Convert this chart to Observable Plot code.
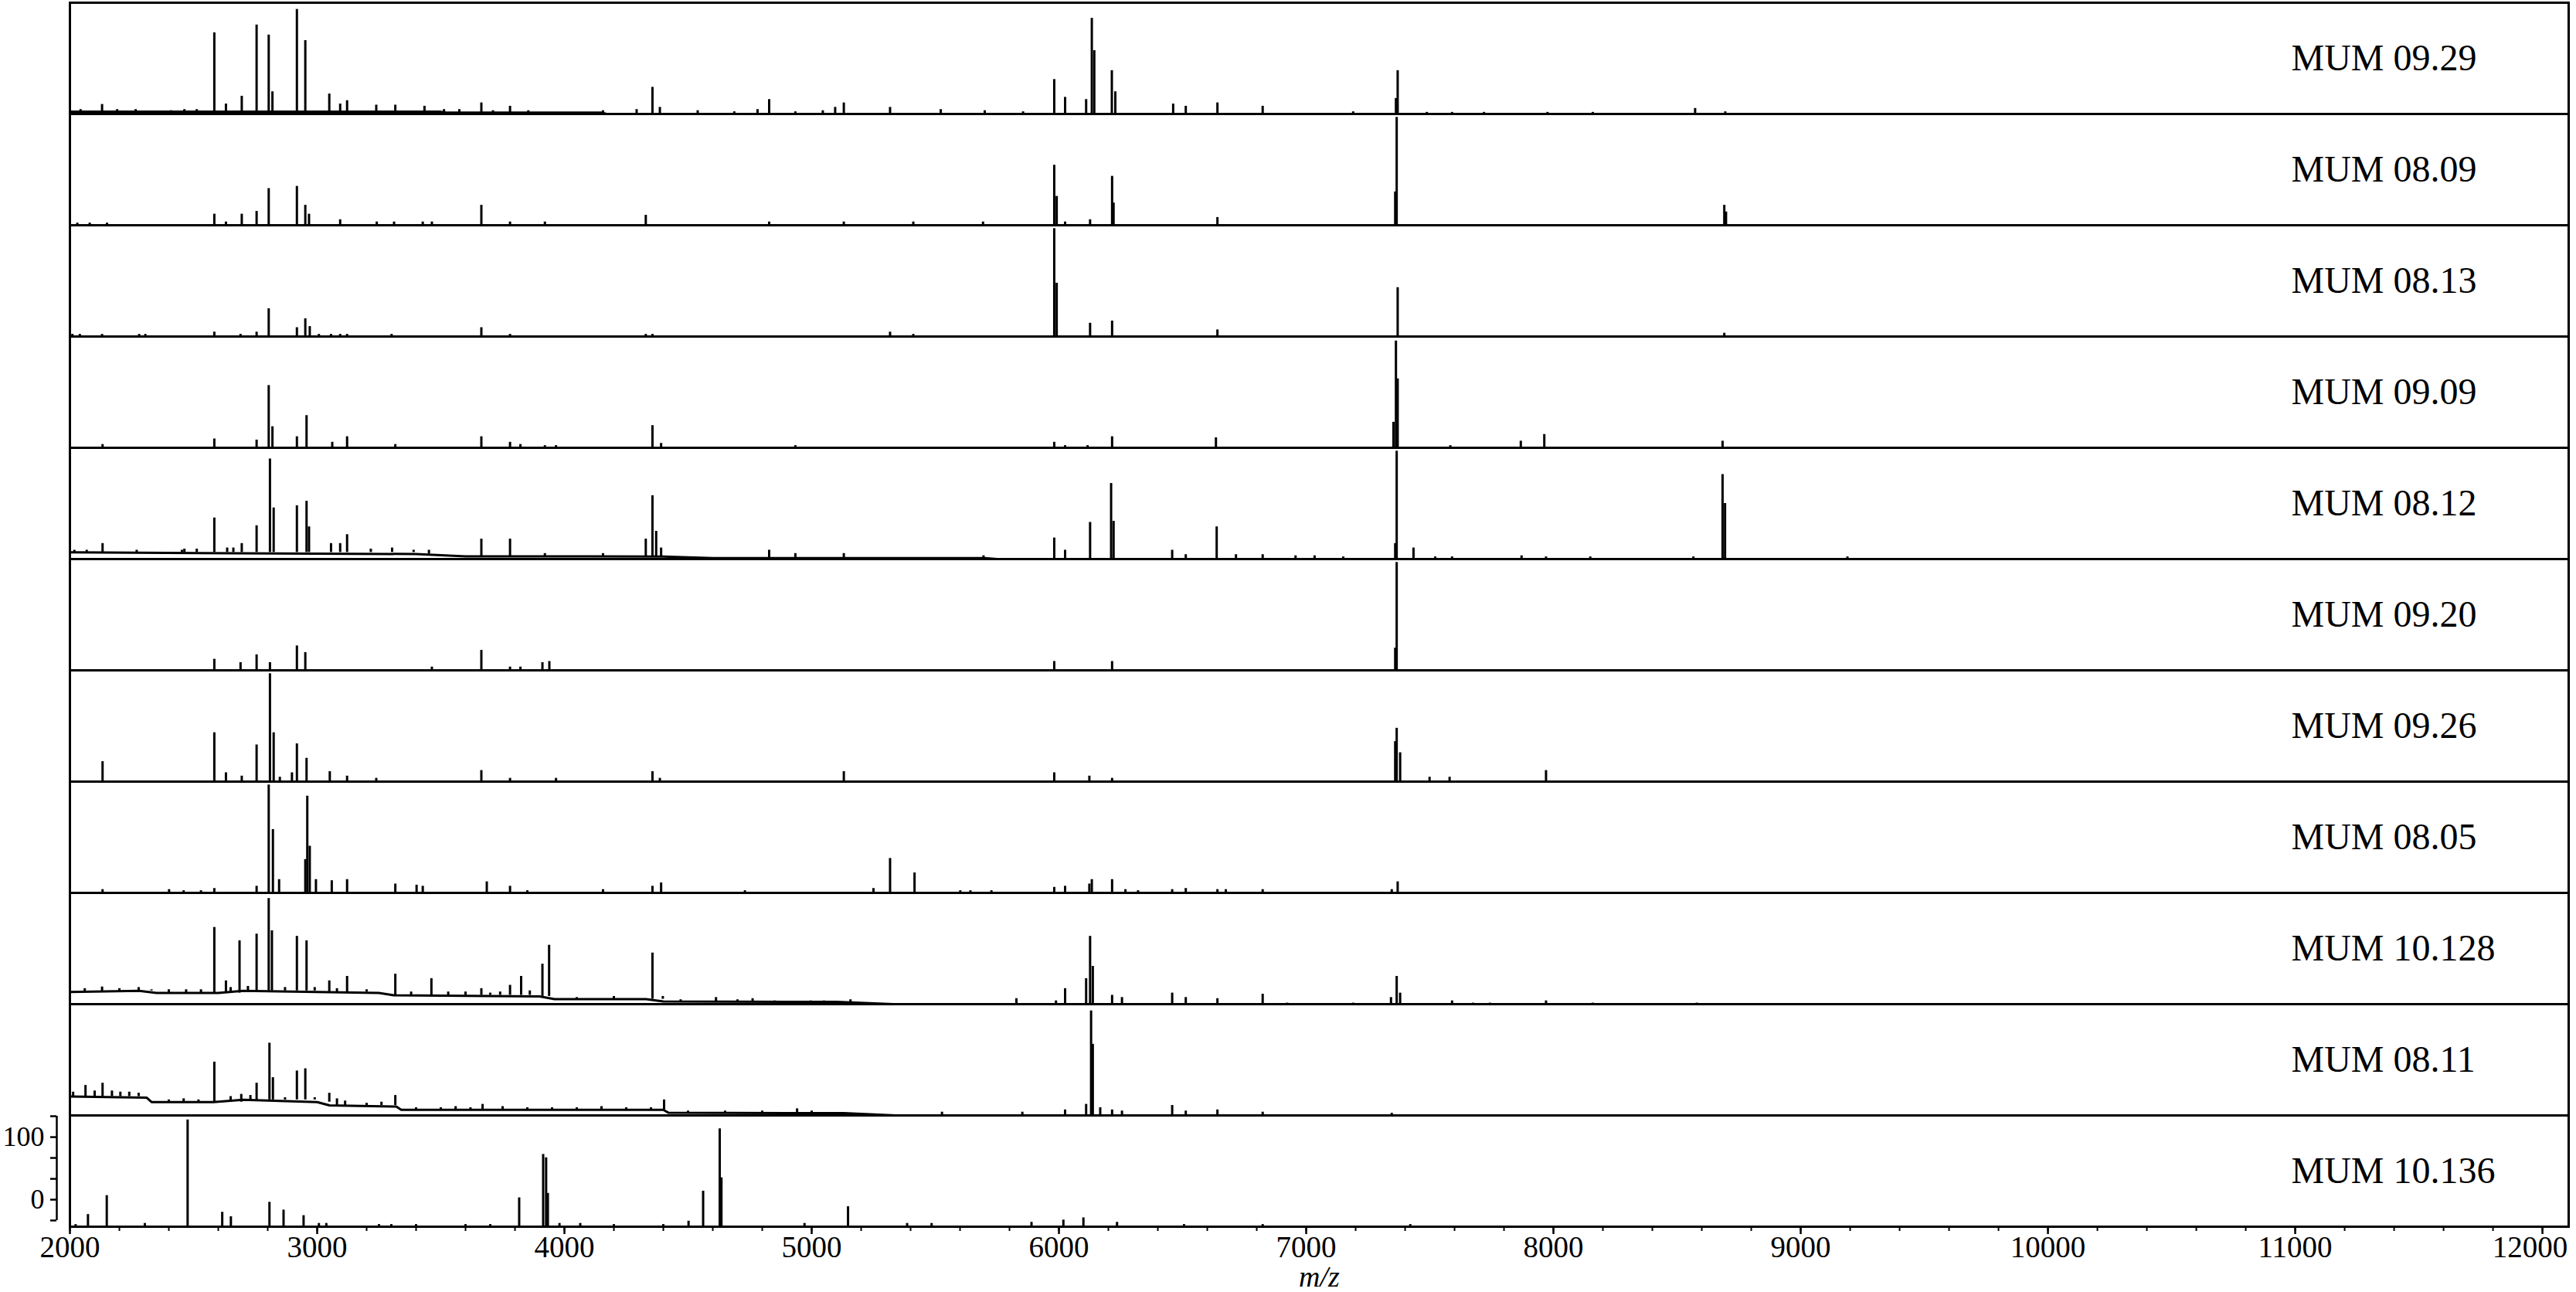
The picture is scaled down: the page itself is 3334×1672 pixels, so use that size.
<!DOCTYPE html>
<html>
<head>
<meta charset="utf-8">
<script src="https://cdn.jsdelivr.net/npm/d3@7"></script>
<script src="https://cdn.jsdelivr.net/npm/@observablehq/plot@0.6"></script>
<style>
html, body { margin: 0; padding: 0; background: #fff; }
#chart svg { display: block; }
</style>
</head>
<body>
<div id="chart"></div>
<script>
// ---- sample names (top to bottom) ----
const samples = ["MUM 09.29", "MUM 08.09", "MUM 08.13", "MUM 09.09", "MUM 08.12", "MUM 09.20",
                 "MUM 09.26", "MUM 08.05", "MUM 10.128", "MUM 08.11", "MUM 10.136"];

// ---- peaks: [m/z, top of peak in % of panel height] ----
const peaks_0929 = [[2043,4],[2130,8.6],[2191,4],[2266,4],[2409,3],[2463,4],[2513,4],[2584,73],[2631,9],[2695,16],[2755,80],[2804,71],[2819,20],
  [2918,94],[2952,66],[3049,18],[3093,9],[3121,12],[3239,8],[3316,8],[3434,7],[3513,4],[3575,4],[3664,10],[3711,3],[3780,7],
  [3854,3],[4156,3],[4292,4],[4356,24],[4386,6],[4539,3],[4687,2],[4781,4],[4828,13],[4934,2],[5045,3],[5095,6],[5130,10],[5317,6],[5522,4],
  [5700,3],[5855,2],[5981,31],[6025,15],[6110,13],[6133,86],[6143,57],[6214,39],[6228,20],[6462,9],[6513,7],[6641,10],
  [6824,7],[7190,2],[7363,14],[7370,39],[7488,1.5],[7590,1.5],[7719,1.5],[7976,1.5],[8159,1.5],[8573,5],[8695,2]];
const peaks_0809 = [[2030,2],[2080,2],[2150,2],[2584,10],[2631,3],[2695,10],[2755,12.5],[2804,33],[2918,35],[2952,18],[2967,10],
  [3093,5],[3241,3],[3311,3],[3427,3],[3464,3],[3664,18],[3780,3],[3921,3],[4329,9],[4828,3],[5130,3],[5411,3],[5693,3],
  [5981,54],[5991,26],[6025,3],[6126,5],[6215,44],[6221,20],[6641,7],[7360,30],[7366,97],[8691,18],[8698,12]];
const peaks_0813 = [[2010,2],[2040,2],[2130,2],[2280,2],[2305,2],[2584,4],[2690,2],[2755,4],[2804,25],[2918,8],[2952,16],[2970,9],
  [3007,2],[3056,2],[3093,2],[3121,2],[3301,2],[3664,8],[3780,2],[4329,2],[4356,2],[5317,4],[5411,2],
  [5981,97],[5991,48],[6126,12],[6215,14],[6641,6],[7370,44],[8691,3]];
const peaks_0909 = [[2132,3],[2584,8],[2755,7],[2804,56],[2819,19],[2918,10],[2957,29],[3061,5],[3121,10],[3316,3],[3664,10],
  [3780,5],[3822,3],[3921,2],[3966,2],[4356,20],[4391,4],[4934,2],
  [5981,5],[6025,2],[6116,2],[6215,10],[6635,9],[7353,23],[7363,96],[7370,62],[7583,2],[7868,6],[7963,12],[8684,6]];
const peaks_0812 = [[2018,8],[2068,8],[2132,14],[2270,8],[2453,8],[2463,9],[2513,9],[2584,37],[2636,10],[2661,10],[2695,14],[2755,30],
  [2809,90],[2824,46],[2918,48],[2957,52],[2967,29],[3056,14],[3093,14],[3121,22],[3217,9],[3303,10],[3390,8],[3452,8],[3664,18],
  [3780,18],[3921,5],[4156,5],[4329,18],[4356,57],[4371,25],[4391,10],[4828,8],[4934,5],[5130,5],[5695,3],
  [5981,19],[6025,8],[6126,33],[6211,68],[6221,34],[6458,8],[6513,4],[6638,29],[6716,4],[6824,4],[6957,3],[7034,3],
  [7150,2],[7360,14],[7366,97],[7434,10],[7522,2],[7590,2],[7871,3],[7970,2],[8149,2],[8566,2],[8684,76],[8694,50],[9189,2]];
const peaks_0920 = [[2584,10],[2690,7],[2755,14],[2809,7],[2918,22],[2952,16],[3464,3],[3664,18],[3780,3],[3822,3],[3911,7],[3939,8],
  [5981,8],[6215,8],[7360,20],[7366,97]];
const peaks_0926 = [[2132,18],[2584,44],[2631,8],[2695,5],[2755,33],[2809,97],[2824,44],[2849,4],[2898,8],[2918,34],[2957,21],
  [3051,9],[3121,5],[3239,3],[3664,10],[3780,3],[3966,3],[4356,9],[4386,3],[5130,9],
  [5981,8],[6123,5],[6215,3],[7360,36],[7366,48],[7380,26],[7499,4],[7580,4],[7970,10]];
const peaks_0805 = [[2132,3],[2401,3],[2460,2],[2530,2],[2584,4],[2755,6],[2804,97],[2821,57],[2846,12],[2952,30],[2960,87],[2970,42],
  [2995,12],[3059,11],[3121,12],[3316,8],[3402,7],[3427,6],[3686,10],[3780,6],[3850,2],[4156,3],[4356,6],[4391,9],[4730,2],
  [5250,4],[5317,31],[5416,18],[5601,2],
  [5642,2],[5727,2],[5981,5],[6025,6],[6123,8],[6133,12],[6215,12],[6269,3],[6320,2],[6458,3],[6513,4],[6641,3],[6675,3],
  [6824,3],[7346,3],[7370,10]];
const peaks_10128 = [[2060,14],[2130,15.5],[2200,14],[2278,15],[2330,13],[2400,13],[2470,13],[2530,13],[2584,69],[2631,21],[2650,15],
  [2686,57],[2720,16],[2755,63],[2804,95],[2817,66],[2870,15],[2918,61],[2957,57],[2990,15],[3049,21],[3080,14],[3121,25],
  [3200,13],[3316,27],[3380,11],[3462,23],[3530,11],[3600,11],[3664,14],[3700,10],[3740,11],[3780,17],[3825,25],[3860,12],
  [3911,36],[3938,53],[4050,6],[4200,7],[4356,46],[4398,7],[4470,4],[4613,6],[4700,4],[4761,5],[4850,3],[4996,3],[5050,3],[5157,4],
  [5828,5],[5988,3],[6025,14],[6110,23],[6126,61],[6137,34],[6215,8],[6255,6],[6458,10],[6513,6],[6641,5],[6824,9],
  [6923,1],[7190,1],[7343,6],[7366,25],[7380,10],[7590,3],[7675,1],[7743,1],[7970,3],[8159,1],[8580,1]];
const peaks_0811 = [[2013,21],[2063,27],[2100,22],[2132,29],[2170,22],[2204,21],[2240,21],[2278,20],[2400,14],[2460,15],[2520,14],
  [2584,48],[2650,17],[2693,19],[2730,18],[2755,29],[2807,65],[2821,34],[2870,16],[2918,40],[2952,42],[2990,16],[3049,20],
  [3080,15],[3113,13],[3200,11],[3260,12],[3316,18],[3400,7],[3500,7],[3560,8],[3620,7],[3669,10],[3750,8],[3850,7],[3950,7],
  [4050,7],[4150,8],[4250,7],[4350,7],[4403,14],[4500,4],[4650,4],[4800,4],[4941,6],[5000,4],[5527,3],
  [5852,3],[6025,5],[6110,10],[6130,94],[6137,64],[6167,7],[6215,5],[6255,4],[6458,9],[6513,4],[6641,5],[6824,3],[7346,2]];
const peaks_10136 = [[2023,2],[2073,11],[2149,28],[2303,3],[2476,96],[2616,13],[2651,9],[2807,22],[2864,15],[2945,10],[3007,3],
  [3037,3],[3250,2],[3300,2],[3400,2],[3600,2],[3700,2],[3817,26],[3914,65],[3926,62],[3933,30],[3980,3],[4064,3],[4200,2],
  [4400,2],[4502,5],[4561,32],[4628,88],[4635,44],[4971,3],[5147,18],[5386,3],[5485,3],
  [5889,4],[6018,6],[6099,8],[6235,4],[6506,2],[6824,2],[7421,2]];

// ---- raised baselines: [m/z, level in % of panel height] (empty = flat at 0) ----
const base_0929 = [[2000,2],[3500,2],[3520,1.3],[4150,1.3],[4170,0],[12106,0]];
const base_0812 = [[2000,6],[3400,4.5],[3600,2.5],[4400,2.3],[4600,0.8],[5700,0.8],[5750,0],[12106,0]];
const base_10128 = [[2000,11],[2280,12],[2350,10],[2600,10],[2700,12],[3000,11],[3250,10],[3310,8],[3900,7],[3960,4.5],
  [4330,4.5],[4400,2.5],[5100,2],[5330,0],[12106,0]];
const base_0811 = [[2000,17],[2310,16],[2330,12],[2580,12],[2700,14],[3000,12],[3050,9],[3320,8],[3340,5],[4400,5],[4420,2.5],
  [5130,2],[5340,0],[12106,0]];

const spectra = [peaks_0929, peaks_0809, peaks_0813, peaks_0909, peaks_0812, peaks_0920,
                 peaks_0926, peaks_0805, peaks_10128, peaks_0811, peaks_10136];
const baselines = [base_0929, [], [], [], base_0812, [], [], [], base_10128, base_0811, []];

// ---- axes ----
const xMajorTicks = [2000, 3000, 4000, 5000, 6000, 7000, 8000, 9000, 10000, 11000];
const xLastTick = [12000];
const xMinorTicks = d3.range(2000, 12101, 200);
const xLabel = "m/z";
const yTickPos = [5.6, 24.3, 43, 61.8, 80.5, 99.3];
const yTickLabels = ["", "0", "", "", "100", ""];

// step lookup of the baseline level under a peak
function baseAt(arr, mz) {
  let level = 0;
  for (const [m, l] of arr) { if (m <= mz) level = l; else break; }
  return level;
}

const peakRows = samples.flatMap((s, i) =>
  spectra[i].map(([mz, top]) => ({sample: s, mz, top, base: Math.min(top, baseAt(baselines[i], mz))})));
const baseRows = samples.flatMap((s, i) =>
  baselines[i].map(([mz, level]) => ({sample: s, mz, level})));
const lastSample = samples[samples.length - 1];
const fmt = d => String(d);

const chart = Plot.plot({
  width: 3334,
  height: 1672,
  marginTop: 2,
  marginBottom: 84,
  marginLeft: 90,
  marginRight: 10,
  style: {fontFamily: "'Liberation Serif', 'DejaVu Serif', serif", fontSize: "40px", background: "#fff", color: "#000"},
  x: {domain: [2000, 12106]},
  y: {domain: [0, 100]},
  fy: {domain: samples, padding: 0, axis: null},
  marks: [
    Plot.frame({stroke: "#000", strokeWidth: 3}),
    Plot.line(baseRows, {x: "mz", y: "level", fy: "sample", z: "sample", stroke: "#000", strokeWidth: 3}),
    Plot.ruleX(peakRows, {x: "mz", y1: "base", y2: "top", fy: "sample", stroke: "#000", strokeWidth: 3}),
    Plot.text(samples, {fy: d => d, text: d => d, frameAnchor: "right", dx: -359, textAnchor: "start", fontSize: 48, fill: "#000"}),
    Plot.axisX(xMajorTicks, {tickSize: 10, tickPadding: 2, strokeWidth: 2.5, fontSize: 39, tickFormat: fmt, label: null}),
    Plot.axisX(xLastTick, {tickSize: 10, strokeWidth: 2.5, tickFormat: () => "", label: null}),
    Plot.axisX(xLastTick, {tickSize: 0, tickPadding: 12, dx: -16, fontSize: 39, tickFormat: fmt, label: null}),
    Plot.axisX(xMinorTicks, {tickSize: 6, tickFormat: () => "", strokeWidth: 2, label: null}),
    Plot.text([xLabel], {fy: () => lastSample, text: d => d, frameAnchor: "bottom", lineAnchor: "middle", dy: 65,
      fontSize: 38, fontStyle: "italic", fill: "#000"}),
    Plot.axisY(yTickPos, {facetAnchor: "bottom", anchor: "left", dx: -17, tickSize: 8, tickPadding: 8,
      tickFormat: d => yTickLabels[yTickPos.indexOf(d)], fontSize: 36, strokeWidth: 2.5, label: null}),
    Plot.ruleX([2000], {fy: () => lastSample, y1: d3.min(yTickPos), y2: d3.max(yTickPos), dx: -17, stroke: "#000", strokeWidth: 2.5})
  ]
});
document.getElementById("chart").appendChild(chart);
</script>
</body>
</html>
